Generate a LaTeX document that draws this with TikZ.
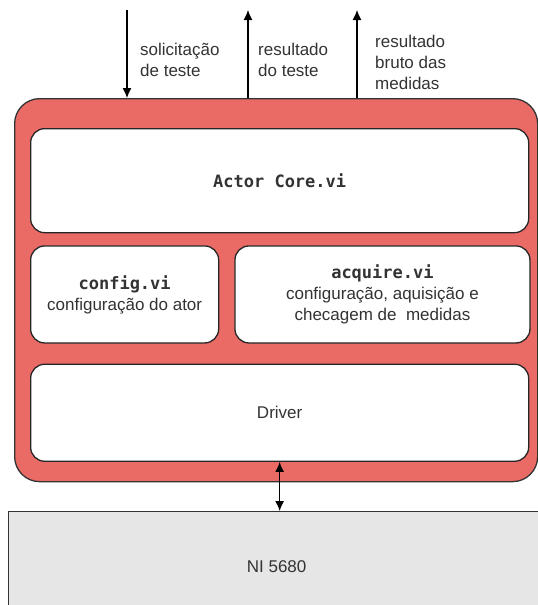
\documentclass[tikz,border=0pt]{standalone}
\usepackage{fontspec}
\setmainfont{Liberation Sans}
\setmonofont{DejaVu Sans Mono}
\usetikzlibrary{arrows.meta,positioning}
\definecolor{actorred}{HTML}{EA6B66}
\definecolor{hwgray}{HTML}{E6E6E6}
\definecolor{txtgray}{HTML}{333333}

\begin{document}
\begin{tikzpicture}[
    x=1pt, y=-1pt,
    every node/.style={font=\fontsize{17}{21}\selectfont, text=txtgray},
    outer/.style={draw=black!80, fill=actorred, line width=1.3pt, rounded corners=25pt, minimum width=523pt, minimum height=383pt, inner sep=0pt},
    box/.style={draw=black!85, fill=white, line width=1.3pt, rounded corners=14pt, align=center, inner sep=0pt, minimum height=97pt},
    device/.style={draw=black!80, fill=hwgray, line width=1.3pt, minimum width=537pt, minimum height=110pt, inner sep=0pt},
    label/.style={align=left, anchor=west, inner sep=0pt},
    flow/.style={-{Latex[length=10pt,width=9pt]}, line width=1.2pt},
    both/.style={{Latex[length=10pt,width=9pt]}-{Latex[length=10pt,width=9pt]}, line width=1.2pt}
]
\useasboundingbox (0,0) rectangle (538,605);
\clip (0,0) rectangle (538,605);
\node[outer, anchor=north west] (actor) at (14,98) {};
\node[box, minimum width=498pt, minimum height=104pt, below right=30pt and 16pt of actor.north west, anchor=north west] (core) {\textbf{\texttt{Actor Core.vi}}};
\node[box, minimum width=188pt, below=12pt of core.south west, anchor=north west] (config) {\textbf{\texttt{config.vi}}\\configuração do ator};
\node[box, minimum width=295pt, right=15pt of config] (acquire) {\textbf{\texttt{acquire.vi}}\\configuração, aquisição e\\checagem de\ \ medidas};
\node[box, minimum width=498pt, below=20pt of config.south west, anchor=north west] (driver) {Driver};
\node[device, anchor=north west] (ni) at (7.5,511) {NI 5680};
% entradas e saidas do ator
\coordinate (req) at (127,10);
\coordinate (res) at (248,10);
\coordinate (raw) at (357,10);
\draw[flow] (req) -- (req |- actor.north);
\draw[flow] (res |- actor.north) -- (res);
\draw[flow] (raw |- actor.north) -- (raw);
\draw[both] (driver.south) -- (ni.north -| driver.south);
\node[label] (reqlabel) at (140,59.5) {solicitação\\de teste};
\node[label] (reslabel) at (258,59.5) {resultado\\do teste};
\node[label] (rawlabel) at (375,62.5) {resultado\\bruto das\\medidas};
\end{tikzpicture}
\end{document}
